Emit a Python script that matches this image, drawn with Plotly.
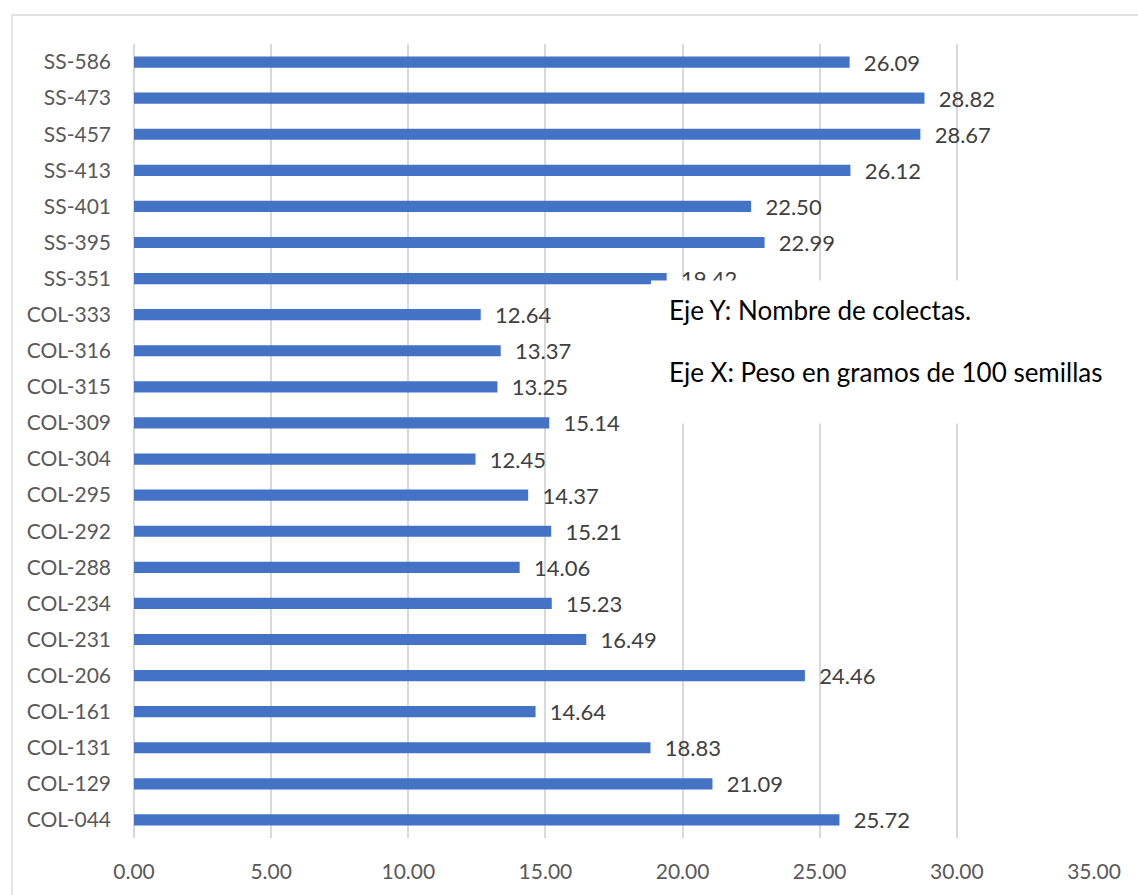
import plotly.graph_objects as go

# Collections, listed bottom to top
colectas = [
    "COL-044", "COL-129", "COL-131", "COL-161", "COL-206", "COL-231",
    "COL-234", "COL-288", "COL-292", "COL-295", "COL-304", "COL-309",
    "COL-315", "COL-316", "COL-333", "SS-351", "SS-395", "SS-401",
    "SS-413", "SS-457", "SS-473", "SS-586",
]
# Weight in grams of 100 seeds
peso_100_semillas = [
    25.72, 21.09, 18.83, 14.64, 24.46, 16.49,
    15.23, 14.06, 15.21, 14.37, 12.45, 15.14,
    13.25, 13.37, 12.64, 19.42, 22.99, 22.50,
    26.12, 28.67, 28.82, 26.09,
]
x_ticks = [0, 5, 10, 15, 20, 25, 30, 35]
x_tick_labels = [f"{v:.2f}" for v in x_ticks]

FONT = "Lato"
GRID = "#D9D9D9"

fig = go.Figure(
    go.Bar(
        x=peso_100_semillas,
        y=colectas,
        orientation="h",
        width=0.31,
        marker=dict(color="#4472C4", line=dict(width=0)),
        texttemplate="\u00a0\u00a0%{x:.2f}",
        textposition="outside",
        constraintext="none",
        cliponaxis=False,
        textfont=dict(family=FONT, size=22, color="#404040"),
        hoverinfo="x+y",
    )
)

fig.update_layout(
    width=1138,
    height=895,
    margin=dict(l=134, r=44, t=44, b=54),
    paper_bgcolor="white",
    plot_bgcolor="white",
    showlegend=False,
    bargap=0.69,
    xaxis=dict(
        range=[0, 35],
        tickvals=x_ticks,
        ticktext=x_tick_labels,
        showgrid=True,
        gridcolor=GRID,
        gridwidth=1.5,
        zeroline=True,
        zerolinecolor=GRID,
        zerolinewidth=1.5,
        showline=False,
        ticks="",
        ticklabelstandoff=19,
        tickfont=dict(family=FONT, size=21, color="#595959"),
        fixedrange=True,
    ),
    yaxis=dict(
        type="category",
        categoryorder="array",
        categoryarray=colectas,
        range=[-0.5, len(colectas) - 0.5],
        showgrid=False,
        zeroline=False,
        showline=False,
        ticks="",
        ticklabelstandoff=22,
        tickfont=dict(family=FONT, size=21, color="#595959"),
        fixedrange=True,
    ),
    shapes=[
        # outer chart frame
        dict(
            type="rect", xref="paper", yref="paper",
            x0=-0.127, x1=1.10, y0=-0.08, y1=1.0364,
            line=dict(color=GRID, width=1.5), fillcolor="rgba(0,0,0,0)",
            layer="below",
        ),
        # white text box over the plot
        dict(
            type="rect", xref="paper", yref="paper",
            x0=0.5385, x1=1.10, y0=0.522, y1=0.702,
            line=dict(width=0), fillcolor="white", layer="above",
        ),
    ],
    annotations=[
        dict(
            text="Eje Y: Nombre de colectas.", xref="paper", yref="paper",
            x=0.555, y=0.665, xanchor="left", yanchor="middle",
            showarrow=False, font=dict(family=FONT, size=26, color="#000000"),
        ),
        dict(
            text="Eje X: Peso en gramos de 100 semillas", xref="paper", yref="paper",
            x=0.555, y=0.587, xanchor="left", yanchor="middle",
            showarrow=False, font=dict(family=FONT, size=26, color="#000000"),
        ),
    ],
)

fig.write_html("out.html")
